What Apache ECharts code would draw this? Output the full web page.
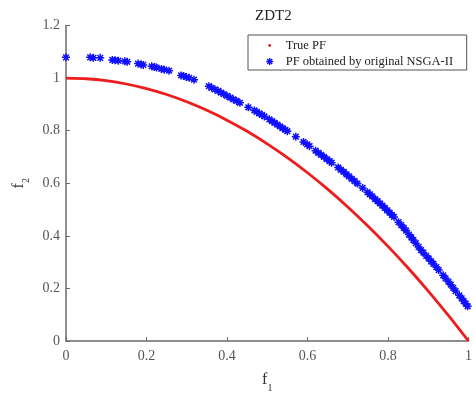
<!DOCTYPE html>
<html>
<head>
<meta charset="utf-8">
<script src="https://cdn.jsdelivr.net/npm/echarts@6/dist/echarts.min.js"></script>
<style>html,body{margin:0;padding:0;background:#fff}#c{width:475px;height:398px}</style>
</head>
<body>
<div id="c"></div>
<script>
// True Pareto front
var trueX = [0,0.05,0.1,0.15,0.2,0.25,0.3,0.35,0.4,0.45,0.5,0.55,0.6,0.65,0.7,0.75,0.8,0.85,0.9,0.95,1];
var trueY = [1,0.9975,0.99,0.9775,0.96,0.9375,0.91,0.8775,0.84,0.7975,0.75,0.6975,0.64,0.5775,0.51,0.4375,0.36,0.2775,0.19,0.0975,0];
// Front obtained by original NSGA-II
var nsgaX = [0,0.06,0.068,0.085,0.115,0.122,0.13,0.146,0.152,0.179,0.187,0.192,0.213,0.22,0.225,0.237,0.244,0.256,0.286,0.292,0.299,0.306,0.318,
  0.355,0.362,0.37,0.378,0.385,0.392,0.4,0.408,0.416,0.424,0.432,0.453,0.468,0.474,0.48,0.487,0.493,0.505,0.512,0.518,0.525,0.532,0.538,0.545,0.55,
  0.571,0.59,0.599,0.605,0.62,0.627,0.634,0.641,0.648,0.655,0.66,0.676,0.683,0.69,0.697,0.703,0.71,0.717,0.724,0.737,0.749,0.755,0.761,0.768,0.774,
  0.78,0.786,0.792,0.798,0.804,0.81,0.815,0.826,0.833,0.839,0.845,0.852,0.858,0.863,0.869,0.876,0.882,0.888,0.895,0.901,0.907,0.913,0.92,0.926,
  0.937,0.943,0.95,0.956,0.962,0.968,0.977,0.983,0.988,0.993,0.998];
var nsgaY = [1.079,1.079,1.077,1.077,1.069,1.068,1.066,1.064,1.062,1.055,1.052,1.05,1.045,1.042,1.04,1.035,1.032,1.028,1.01,1.008,1.004,1.001,0.994,
  0.969,0.963,0.957,0.951,0.945,0.939,0.932,0.926,0.919,0.913,0.906,0.889,0.877,0.871,0.866,0.86,0.854,0.843,0.836,0.83,0.823,0.816,0.81,0.803,0.798,
  0.777,0.757,0.748,0.741,0.724,0.716,0.708,0.7,0.692,0.684,0.678,0.66,0.651,0.643,0.634,0.626,0.617,0.608,0.599,0.582,0.566,0.558,0.55,0.54,0.532,
  0.523,0.515,0.506,0.497,0.488,0.479,0.472,0.452,0.441,0.43,0.42,0.405,0.394,0.384,0.372,0.358,0.346,0.336,0.324,0.314,0.303,0.293,0.281,0.27,
  0.25,0.238,0.226,0.214,0.202,0.19,0.174,0.162,0.152,0.142,0.132];
var seriesNames = ['True PF', 'PF obtained by original NSGA-II'];
var titleText = 'ZDT2';

var trueData = trueX.map(function (x, i) { return [x, trueY[i]]; });
var nsgaData = nsgaX.map(function (x, i) { return [x, nsgaY[i]]; });

var serif = '"Liberation Serif", "DejaVu Serif", serif';
var starPath = 'path://M0.5,5L9.5,5M5,0.5L5,9.5M1.8,1.8L8.2,8.2M8.2,1.8L1.8,8.2';
var legendDot = 'path://M0,0M22,10M9.6,5a1.4,1.4 0 1,0 2.8,0a1.4,1.4 0 1,0 -2.8,0';
var legendStar = 'path://M0,0M22,10M7.5,5L14.5,5M11,1.5L11,8.5M8.5,2.5L13.5,7.5M13.5,2.5L8.5,7.5';

var nameRich = {
  a: { fontSize: 16, fontFamily: serif, color: '#333', lineHeight: 17, verticalAlign: 'top' },
  b: { fontSize: 10, fontFamily: serif, color: '#333', lineHeight: 10, padding: [11, 0, 0, 0], verticalAlign: 'top' }
};

var chart = echarts.init(document.getElementById('c'));
chart.setOption({
  animation: false,
  backgroundColor: '#fff',
  title: {
    text: titleText, left: 250, top: 4,
    textStyle: { fontFamily: serif, fontSize: 15, fontWeight: 'normal', color: '#222' }
  },
  legend: {
    orient: 'vertical', left: 248, top: 35,
    padding: [4, 3, 2, 10],
    itemWidth: 22, itemHeight: 10, itemGap: 3,
    borderColor: '#555', borderWidth: 1, backgroundColor: '#fff',
    textStyle: { fontFamily: serif, fontSize: 12.5, color: '#222', lineHeight: 12, width: 178 },
    data: [
      { name: seriesNames[0], icon: legendDot, itemStyle: { color: '#ee1c1c', borderWidth: 0 } },
      { name: seriesNames[1], icon: legendStar, itemStyle: { color: '#1010ff', borderColor: '#1010ff', borderWidth: 1.4 } }
    ]
  },
  grid: { left: 66, right: 1, top: 25.5, bottom: 56.5 },
  xAxis: {
    type: 'value', min: 0, max: 1, interval: 0.2,
    name: '{a|f}{b|1}', nameLocation: 'middle', nameGap: 31,
    nameTextStyle: { rich: nameRich },
    axisLine: { show: true, lineStyle: { color: '#6a6a6a', width: 1.5 } },
    axisTick: { show: true, inside: true, length: 4, lineStyle: { color: '#6a6a6a' } },
    axisLabel: { color: '#555', fontFamily: serif, fontSize: 14, margin: 8 },
    splitLine: { show: false }
  },
  yAxis: {
    type: 'value', min: 0, max: 1.2, interval: 0.2,
    name: '{a|f}{b|2}', nameLocation: 'middle', nameGap: 28, nameRotate: 90,
    nameTextStyle: { rich: nameRich },
    axisLine: { show: true, lineStyle: { color: '#6a6a6a', width: 1.5 } },
    axisTick: { show: true, inside: true, length: 4, lineStyle: { color: '#6a6a6a' } },
    axisLabel: { color: '#555', fontFamily: serif, fontSize: 14, margin: 6 },
    splitLine: { show: false }
  },
  series: [
    {
      name: seriesNames[0], type: 'line', data: trueData, showSymbol: false, smooth: 0.2,
      lineStyle: { color: '#ee1c1c', width: 2.8 }, itemStyle: { color: '#ee1c1c' }, z: 2
    },
    {
      name: seriesNames[1], type: 'scatter', data: nsgaData, symbol: starPath, symbolSize: 8,
      itemStyle: { color: '#1010ff', borderColor: '#1010ff', borderWidth: 1.5, opacity: 1 }, z: 3
    }
  ]
});
</script>
</body>
</html>
